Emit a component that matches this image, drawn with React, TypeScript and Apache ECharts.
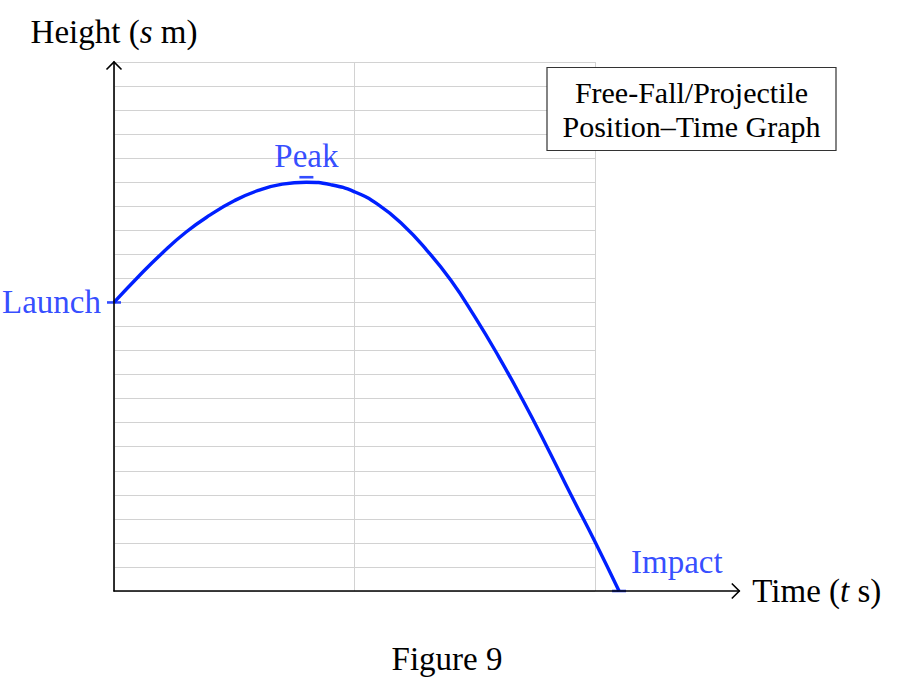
import { useEffect, useRef } from 'react'
import * as echarts from 'echarts'

// ── Data ─────────────────────────────────────────────────────────────────────
// t in seconds, s in metres
const TIME_S = [
  0, 0.1, 0.2, 0.3, 0.4, 0.5, 0.6, 0.7, 0.8, 0.9, 1.0, 1.1,
  1.2, 1.3, 1.4, 1.5, 1.6, 1.7, 1.8, 1.9, 2.0, 2.1,
]
const HEIGHT_M = [
  12.0, 13.06, 14.05, 14.93, 15.64, 16.23, 16.66, 16.92, 17.0, 16.9, 16.6, 16.06,
  15.24, 14.18, 12.93, 11.41, 9.74, 7.93, 6.0, 4.0, 2.05, 0,
]

// key events marked on the curve
const EVENT_NAMES = ['Launch', 'Peak', 'Impact']
const EVENT_T = [0, 0.8, 2.1]
const EVENT_S = [12, 17, 0]

// axis ranges
const T_MAX = 2.6       // axis line runs past the grid
const T_GRID_MAX = 2    // grid stops here
const T_STEP = 1
const S_MAX = 22
const S_STEP = 1

const BLUE = '#0020ff'
const SERIF = "'Liberation Serif', 'DejaVu Serif', serif"
const FS = 33

// layout
const LEFT = 114
const TOP = 62
const PLOT_H = 529
const PX_PER_T = 240.5

export default function App() {
  const ref = useRef<HTMLDivElement>(null)

  useEffect(() => {
    if (!ref.current) return
    const chart = echarts.init(ref.current, null, { renderer: 'svg' })

    const xEnd = LEFT + T_MAX * PX_PER_T
    const yBase = TOP + PLOT_H

    // per-event label placement (not data)
    const eventStyle = [
      { offset: [0, 0], label: { position: 'left', distance: 6 } },
      { offset: [0, -5], label: { position: 'top', distance: 3 } },
      { offset: [0, 0], label: { position: 'right', distance: 5, offset: [0, -29] } },
    ]

    const nameStyle = {
      fontFamily: SERIF,
      fontSize: FS,
      color: '#000',
      rich: { i: { fontStyle: 'italic', fontFamily: SERIF, fontSize: FS, color: '#000' } },
    }

    const option: echarts.EChartsOption = {
      animation: false,
      backgroundColor: '#fff',
      grid: [
        { left: LEFT, top: TOP, width: T_MAX * PX_PER_T, height: PLOT_H },
        { left: LEFT, top: TOP, width: T_GRID_MAX * PX_PER_T, height: PLOT_H },
      ],
      xAxis: [
        {
          gridIndex: 0,
          type: 'value',
          min: 0,
          max: T_MAX,
          axisLine: { lineStyle: { color: '#000', width: 1.6 } },
          axisTick: { show: false },
          axisLabel: { show: false },
          splitLine: { show: false },
          name: 'Time ({i|t} s)',
          nameLocation: 'end',
          nameGap: 13,
          nameTextStyle: nameStyle,
          z: 5,
        },
        {
          gridIndex: 1,
          type: 'value',
          min: 0,
          max: T_GRID_MAX,
          interval: T_STEP,
          axisLine: { show: false },
          axisTick: { show: false },
          axisLabel: { show: false },
          splitLine: { show: true, lineStyle: { color: '#d2d2d2', width: 1 } },
        },
      ],
      yAxis: [
        {
          gridIndex: 0,
          type: 'value',
          min: 0,
          max: S_MAX,
          axisLine: { show: true, lineStyle: { color: '#000', width: 1.6 } },
          axisTick: { show: false },
          axisLabel: { show: false },
          splitLine: { show: false },
          name: 'Height ({i|s} m)',
          nameLocation: 'end',
          nameGap: 14,
          nameTextStyle: nameStyle,
          z: 5,
        },
        {
          gridIndex: 1,
          type: 'value',
          min: 0,
          max: S_MAX,
          interval: S_STEP,
          axisLine: { show: false },
          axisTick: { show: false },
          axisLabel: { show: false },
          splitLine: { show: true, lineStyle: { color: '#d2d2d2', width: 1 } },
        },
      ],
      series: [
        {
          type: 'line',
          xAxisIndex: 0,
          yAxisIndex: 0,
          data: TIME_S.map((t, i) => [t, HEIGHT_M[i]]),
          smooth: true,
          showSymbol: false,
          clip: false,
          lineStyle: { color: BLUE, width: 3.4 },
          z: 3,
        },
        {
          type: 'scatter',
          xAxisIndex: 0,
          yAxisIndex: 0,
          symbol: 'rect',
          symbolSize: [14, 2.6],
          itemStyle: { color: BLUE },
          clip: false,
          z: 4,
          data: EVENT_NAMES.map((name, i) => ({
            name,
            value: [EVENT_T[i], EVENT_S[i]],
            symbolOffset: eventStyle[i].offset,
            label: {
              show: true,
              formatter: name,
              color: BLUE,
              fontFamily: SERIF,
              fontSize: FS,
              ...eventStyle[i].label,
            },
          })),
        },
      ],
      graphic: [
        {
          type: 'polyline',
          shape: { points: [[xEnd - 7.5, yBase - 7.5], [xEnd, yBase], [xEnd - 7.5, yBase + 7.5]] },
          style: { stroke: '#000', lineWidth: 1.6, fill: 'none' },
          z: 10,
        },
        {
          type: 'polyline',
          shape: { points: [[LEFT - 7.5, TOP + 7.5], [LEFT, TOP], [LEFT + 7.5, TOP + 7.5]] },
          style: { stroke: '#000', lineWidth: 1.6, fill: 'none' },
          z: 10,
        },
        {
          type: 'rect',
          shape: { x: 547, y: 67.5, width: 289, height: 83 },
          style: { fill: '#fff', stroke: '#333', lineWidth: 1.2 },
          z: 10,
        },
        {
          type: 'text',
          x: 691.5,
          y: 109,
          style: {
            text: 'Free-Fall/Projectile\nPosition–Time Graph',
            fontFamily: SERIF,
            fontSize: 30,
            lineHeight: 34,
            fill: '#000',
            align: 'center',
            verticalAlign: 'middle',
          },
          z: 11,
        },
        {
          type: 'text',
          x: 447,
          y: 659,
          style: {
            text: 'Figure 9',
            fontFamily: SERIF,
            fontSize: FS,
            fill: '#000',
            align: 'center',
            verticalAlign: 'middle',
          },
          z: 11,
        },
      ],
    }

    chart.setOption(option)
    return () => chart.dispose()
  }, [])

  return (
    <div
      ref={ref}
      style={{ position: 'absolute', left: 0, top: 0, width: 902, height: 690, background: '#fff' }}
    />
  )
}
